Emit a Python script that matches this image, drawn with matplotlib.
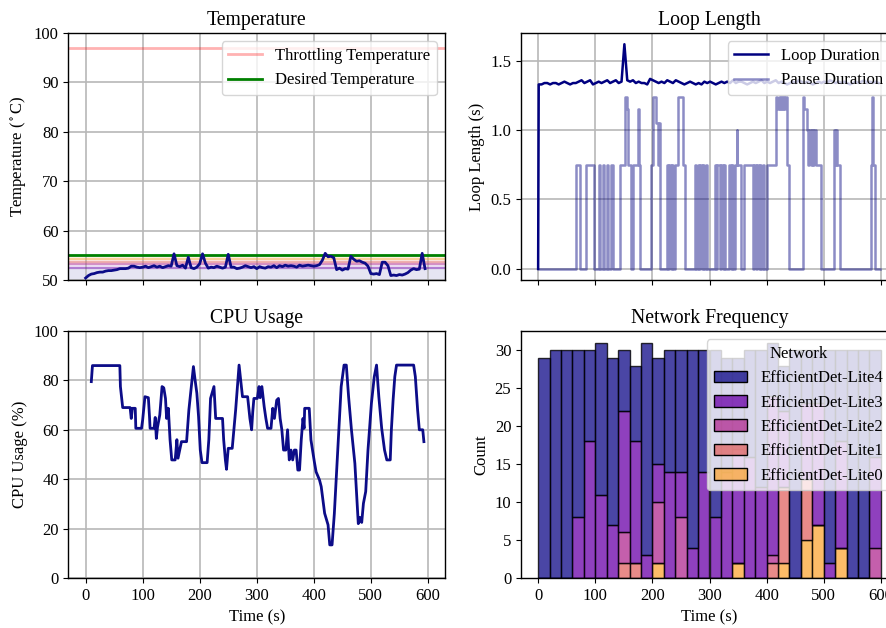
import numpy as np
import matplotlib
matplotlib.use("Agg")
import matplotlib.pyplot as plt
from matplotlib.patches import Patch

# ---------------- data ----------------
networks = ["EfficientDet-Lite4", "EfficientDet-Lite3", "EfficientDet-Lite2",
            "EfficientDet-Lite1", "EfficientDet-Lite0"]

throttle_temp = 97.0
desired_temp = 55.0
# lower bounds of the temperature band assigned to each lighter network
band_edges = [50.0, 52.4, 53.2, 53.7, 54.2, 54.6]

temp_time = np.arange(0, 600, 5)
temperature = [
    50.4, 50.9, 51.2, 51.3, 51.5, 51.6, 51.6, 51.8, 51.9, 51.9,
    52.0, 52.1, 52.3, 52.3, 52.3, 52.4, 52.8, 52.8, 52.6, 52.5,
    52.6, 52.8, 52.5, 52.7, 52.9, 52.6, 52.8, 52.5, 52.7, 52.9,
    52.8, 55.3, 52.9, 52.7, 53.0, 52.4, 54.6, 52.5, 52.3, 52.6,
    53.3, 55.3, 53.4, 52.4, 52.6, 52.5, 52.8, 52.6, 52.4, 52.6,
    55.2, 52.6, 52.6, 52.3, 52.4, 52.6, 52.9, 52.7, 52.5, 52.7,
    52.3, 52.7, 52.5, 52.4, 52.7, 52.6, 52.9, 52.5, 52.9, 52.7,
    53.0, 52.8, 52.9, 52.8, 52.6, 53.0, 52.8, 52.9, 53.0, 52.9,
    52.8, 52.9, 53.1, 54.0, 55.4, 54.7, 54.8, 54.5, 52.1, 52.4,
    52.0, 52.3, 52.2, 54.8, 54.2, 53.8, 53.9, 53.6, 53.4, 52.8,
    51.3, 51.2, 51.3, 51.1, 53.6, 53.6, 52.9, 50.9, 51.0, 50.9,
    51.1, 51.0, 51.2, 51.5, 52.0, 52.3, 52.1, 52.2, 55.4, 52.3,
]

loop_time = np.concatenate([[0.0], np.arange(1, 601, 5)])
loop_duration = [
    0.00,
    1.33, 1.33, 1.34, 1.34, 1.33, 1.34, 1.34, 1.33, 1.34, 1.35,
    1.34, 1.33, 1.34, 1.34, 1.35, 1.36, 1.34, 1.35, 1.36, 1.33,
    1.34, 1.35, 1.34, 1.35, 1.36, 1.34, 1.35, 1.36, 1.34, 1.35,
    1.62, 1.36, 1.35, 1.36, 1.34, 1.35, 1.34, 1.34, 1.33, 1.37,
    1.36, 1.35, 1.34, 1.35, 1.34, 1.36, 1.35, 1.34, 1.36, 1.35,
    1.34, 1.33, 1.34, 1.35, 1.34, 1.33, 1.34, 1.33, 1.35, 1.34,
    1.35, 1.34, 1.33, 1.34, 1.35, 1.34, 1.35, 1.34, 1.36, 1.34,
    1.35, 1.35, 1.34, 1.33, 1.34, 1.35, 1.34, 1.35, 1.36, 1.34,
    1.35, 1.34, 1.35, 1.36, 1.34, 1.35, 1.34, 1.33, 1.34, 1.35,
    1.34, 1.36, 1.35, 1.34, 1.35, 1.34, 1.33, 1.34, 1.35, 1.34,
    1.35, 1.34, 1.36, 1.35, 1.34, 1.35, 1.34, 1.35, 1.34, 1.33,
    1.34, 1.35, 1.34, 1.35, 1.36, 1.34, 1.35, 1.34, 1.35, 1.34,
]

pause_time = [
    0, 67, 74, 84, 97, 106, 109, 113, 116, 121, 123, 127, 131, 143, 152, 156,
    158, 162, 166, 174, 176, 178, 198, 201, 207, 209, 211, 213, 225, 227, 229,
    232, 234, 236, 239, 245, 254, 257, 275, 277, 280, 282, 284, 287, 289, 291,
    293, 296, 309, 312, 314, 318, 320, 324, 325, 327, 334, 337, 339, 342, 344,
    348, 349, 356, 361, 376, 378, 381, 384, 387, 389, 391, 393, 396, 400, 417,
    419, 421, 423, 425, 427, 429, 431, 433, 435, 439, 464, 466, 471, 473, 475,
    477, 479, 481, 483, 485, 487, 496, 518, 520, 522, 524, 528, 582, 584, 587,
    589, 598,
]
pause_duration = [
    0, 0.75, 0, 0.75, 0, 0.75, 0, 0.75, 0, 0.75, 0, 0.75, 0, 0.75, 1.24, 1.15,
    0.75, 0, 0.75, 1.15, 0.75, 0, 0.75, 1.24, 1.05, 0.75, 1.05, 0, 0.75, 0, 0.75,
    0, 0.75, 0, 0.75, 1.24, 0.75, 0, 0.75, 0, 0.75, 0, 0.75, 0, 0.75, 0,
    0.75, 0, 0.75, 0, 0.75, 0, 0.75, 0, 0.75, 0, 0.75, 0, 0.75, 0, 0.75,
    1.0, 0.75, 0, 0.75, 0, 0.75, 0, 0.75, 0, 0.75, 0, 0.75, 0, 0.75, 1.24,
    1.15, 1.24, 1.15, 1.24, 1.15, 1.24, 1.15, 1.24, 0.75, 0, 1.24, 1.15, 1.0, 0.75, 1.0,
    0.75, 1.0, 0.75, 1.0, 1.0, 0.75, 0, 1.0, 0.75, 1.0, 0.75, 0, 0.75, 1.24, 0.75,
    0, 0,
]

cpu_time = [
    10, 12, 60, 61, 65, 78, 80, 82, 87, 88, 98, 100, 104, 110, 112, 113, 120,
    122, 124, 126, 130, 134, 137, 140, 142, 145, 148, 151, 157, 160, 162, 165,
    168, 177, 181, 185, 189, 192, 195, 198, 201, 204, 213, 216, 219, 225, 228,
    240, 242, 245, 247, 250, 257, 263, 269, 272, 275, 284, 288, 291, 293, 295,
    301, 304, 306, 309, 313, 316, 319, 325, 328, 331, 335, 338, 341, 344, 347,
    351, 354, 357, 360, 363, 366, 369, 372, 375, 378, 381, 383, 384, 392, 395,
    401, 404, 410, 413, 419, 425, 428, 432, 436, 442, 448, 453, 457, 461, 466,
    472, 478, 481, 484, 487, 491, 495, 501, 506, 510, 514, 519, 524, 528, 534,
    536, 539, 542, 545, 575, 578, 582, 585, 591, 593,
]
cpu_usage = [
    79.5, 86.0, 86.0, 77.5, 69.0, 69.0, 64.6, 68.7, 68.7, 60.6, 60.6, 64.0, 73.4,
    73.0, 65.3, 60.6, 60.6, 65.0, 56.5, 61.0, 66.0, 77.5, 77.0, 72.7, 64.6, 68.7,
    56.0, 47.8, 47.8, 56.0, 48.5, 51.8, 55.2, 55.2, 68.0, 76.8, 85.6, 80.0, 74.8,
    65.3, 51.8, 46.7, 46.7, 56.0, 72.7, 77.5, 64.6, 64.6, 56.0, 47.8, 44.0, 52.5,
    52.5, 68.0, 86.2, 80.0, 73.4, 73.4, 64.6, 60.0, 67.3, 72.7, 72.7, 77.5, 73.0,
    77.5, 69.4, 64.6, 60.6, 60.6, 68.7, 64.6, 72.0, 72.7, 64.6, 60.0, 51.8, 51.8,
    60.0, 47.8, 51.8, 47.8, 51.8, 51.8, 43.7, 43.7, 55.9, 64.6, 60.6, 68.7, 68.7,
    55.9, 47.0, 43.0, 39.7, 37.0, 26.2, 21.5, 13.4, 13.4, 26.0, 51.8, 77.5, 86.2,
    86.2, 73.4, 60.0, 46.4, 22.0, 24.5, 22.5, 30.2, 35.0, 51.8, 70.7, 81.5, 86.2,
    73.4, 60.6, 51.8, 47.8, 47.8, 60.0, 72.0, 81.5, 86.2, 86.2, 81.5, 68.0, 60.0,
    60.0, 55.2,
]

bin_edges = np.arange(0, 620, 20)
counts = {
    "EfficientDet-Lite4": [29, 30, 30, 22, 12, 20, 22, 8, 10, 28, 14, 16, 16, 26, 16,
                           22, 15, 12, 14, 18, 7, 6, 30, 7, 7, 28, 12, 30, 30, 14],
    "EfficientDet-Lite3": [0, 0, 0, 8, 18, 11, 7, 16, 16, 3, 5, 14, 6, 4, 14,
                           8, 14, 15, 16, 12, 21, 10, 0, 10, 16, 2, 14, 0, 0, 12],
    "EfficientDet-Lite2": [0, 0, 0, 0, 0, 0, 0, 4, 0, 0, 8, 0, 8, 0, 0,
                           0, 0, 0, 0, 0, 1, 0, 0, 0, 0, 0, 0, 0, 0, 4],
    "EfficientDet-Lite1": [0, 0, 0, 0, 0, 0, 0, 2, 2, 0, 0, 0, 0, 0, 0,
                           0, 0, 0, 0, 0, 2, 10, 0, 8, 0, 0, 0, 0, 0, 0],
    "EfficientDet-Lite0": [0, 0, 0, 0, 0, 0, 0, 0, 0, 0, 2, 0, 0, 0, 0,
                           0, 0, 2, 0, 0, 0, 2, 0, 5, 7, 0, 4, 0, 0, 0],
}

# ---------------- style ----------------
plt.rcParams.update({
    "font.family": "serif",
    "font.serif": ["Liberation Serif", "DejaVu Serif"],
    "mathtext.fontset": "stix",
    "font.size": 12,
    "axes.titlesize": 14.2,
    "axes.grid": True,
    "grid.color": "#b8b8b8",
    "grid.linewidth": 1.2,
    "axes.linewidth": 1.0,
    "legend.framealpha": 0.8,
})

line_color = "#0c0c88"
net_colors = [plt.cm.plasma(v) for v in (0.0, 0.2, 0.4, 0.6, 0.8)]

W, H = 887, 628
fig = plt.figure(figsize=(W / 100, H / 100), dpi=100)


def frac(left, top, right, bottom):
    return [left / W, 1 - bottom / H, (right - left) / W, (bottom - top) / H]


ax_temp = fig.add_axes(frac(68.5, 33, 445, 280))
ax_loop = fig.add_axes(frac(521, 33, 898, 280), sharex=ax_temp)
ax_cpu = fig.add_axes(frac(68.5, 331, 445, 578), sharex=ax_temp)
ax_hist = fig.add_axes(frac(521, 331, 898, 578), sharex=ax_temp)

# ---- Temperature ----
for i in range(len(networks)):
    lo, hi = band_edges[i], band_edges[i + 1]
    ax_temp.axhspan(lo, hi, color=net_colors[i], alpha=0.1, lw=0)
    if i > 0:
        ax_temp.axhline(lo, color=net_colors[i], alpha=0.45, lw=1.6)
ax_temp.axhspan(band_edges[-1], desired_temp, color=net_colors[-1], alpha=0.15, lw=0)
ax_temp.axhline(throttle_temp, color="red", alpha=0.3, lw=2, label="Throttling Temperature")
ax_temp.axhline(desired_temp, color="green", lw=2, label="Desired Temperature")
ax_temp.plot(temp_time, temperature, color=line_color, lw=2)
ax_temp.set_ylim(50, 100)
ax_temp.set_title("Temperature")
ax_temp.set_ylabel(r"Temperature ($^\circ$C)")
ax_temp.legend(loc="upper right")
ax_temp.tick_params(labelbottom=False)

# ---- Loop length ----
ax_loop.plot(loop_time, loop_duration, color="navy", lw=1.8, label="Loop Duration")
ax_loop.plot(pause_time, pause_duration, color="navy", alpha=0.45, lw=1.8,
             drawstyle="steps-post", label="Pause Duration")
ax_loop.set_title("Loop Length")
ax_loop.set_ylabel("Loop Length (s)")
ax_loop.set_yticks([0.0, 0.5, 1.0, 1.5])
ax_loop.legend(loc="upper right")
ax_loop.tick_params(labelbottom=False)

# ---- CPU usage ----
ax_cpu.plot(cpu_time, cpu_usage, color=line_color, lw=2)
ax_cpu.set_ylim(0, 100)
ax_cpu.set_title("CPU Usage")
ax_cpu.set_ylabel("CPU Usage (%)")
ax_cpu.set_xlabel("Time (s)")

# ---- Network frequency (stacked histogram) ----
ax_hist.grid(False)
left_edges = bin_edges[:-1]
widths = np.diff(bin_edges)
bottom = np.zeros(len(left_edges))
for name, col in reversed(list(zip(networks, net_colors))):
    vals = np.asarray(counts[name], dtype=float)
    face = (col[0], col[1], col[2], 0.75)
    ax_hist.bar(left_edges, vals, width=widths, bottom=bottom, align="edge",
                facecolor=face, edgecolor=(0, 0, 0, 0.8), linewidth=1.0)
    bottom += vals
handles = [Patch(facecolor=(c[0], c[1], c[2], 0.75), edgecolor="black", linewidth=1.0)
           for c in net_colors]
ax_hist.legend(handles, networks, title="Network", loc="upper right")
ax_hist.set_title("Network Frequency")
ax_hist.set_ylabel("Count")
ax_hist.set_xlabel("Time (s)")
ax_hist.set_yticks([0, 5, 10, 15, 20, 25, 30])

ax_temp.set_xlim(-30, 630)
ax_temp.set_xticks([0, 100, 200, 300, 400, 500, 600])

fig.savefig("out.png", dpi=100)
